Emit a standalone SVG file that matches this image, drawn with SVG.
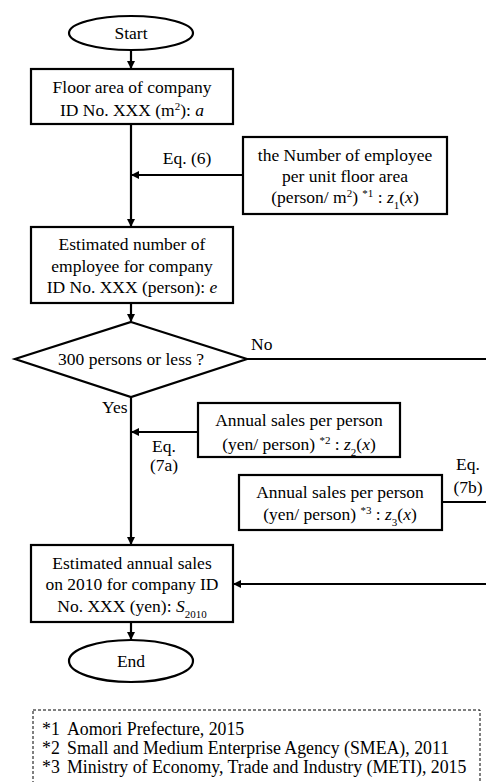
<svg xmlns="http://www.w3.org/2000/svg" width="486" height="782" viewBox="0 0 486 782">
<style>
text{font-family:'Liberation Serif','Times New Roman',serif;font-size:17.5px;fill:#000}
.c{text-anchor:middle}
.box{fill:#fff;stroke:#000;stroke-width:2.2}
.ln{fill:none;stroke:#000;stroke-width:2.2}
.i{font-style:italic}
.sm{font-size:11px}
.lg{font-size:17.8px}
</style>
<defs>
<marker id="ah" markerWidth="8" markerHeight="8" refX="7" refY="4" orient="auto" markerUnits="userSpaceOnUse">
<path d="M0,0 L8,4 L0,8 z" fill="#000"/>
</marker>
</defs>
<g id="connectors">
<line class="ln" x1="131" y1="50" x2="131" y2="68" marker-end="url(#ah)"/>
<line class="ln" x1="131" y1="124" x2="131" y2="226" marker-end="url(#ah)"/>
<line class="ln" x1="243" y1="175" x2="132" y2="175" marker-end="url(#ah)"/>
<line class="ln" x1="131" y1="303" x2="131" y2="321" marker-end="url(#ah)"/>
<line class="ln" x1="247" y1="359" x2="486" y2="359"/>
<line class="ln" x1="131" y1="397" x2="131" y2="544" marker-end="url(#ah)"/>
<line class="ln" x1="198" y1="432" x2="132" y2="432" marker-end="url(#ah)"/>
<line class="ln" x1="442" y1="502" x2="486" y2="502"/>
<line class="ln" x1="486" y1="584" x2="234" y2="584" marker-end="url(#ah)"/>
<line class="ln" x1="131" y1="622" x2="131" y2="639" marker-end="url(#ah)"/>
<text class="c" x="187" y="164">Eq. (6)</text>
<text x="102" y="413">Yes</text>
<text x="251" y="350">No</text>
<text class="c" x="164" y="452">Eq.</text>
<text class="c" x="164" y="471">(7a)</text>
<text class="c" x="468" y="470">Eq.</text>
<text class="c" x="468" y="493">(7b)</text>
</g>
<g id="start">
<ellipse class="box" cx="131" cy="33" rx="62" ry="17"/>
<text class="c" x="131" y="39">Start</text>
</g>
<g id="floor-area">
<rect class="box" x="31" y="69" width="202" height="55"/>
<text class="c" x="132" y="93">Floor area of company</text>
<text class="c" x="132" y="116">ID No. XXX (m<tspan class="sm" baseline-shift="super">2</tspan>): <tspan class="i">a</tspan></text>
</g>
<g id="z1">
<rect class="box" x="243" y="137" width="204" height="77"/>
<text class="c" x="345" y="161">the Number of employee</text>
<text class="c" x="345" y="182">per unit floor area</text>
<text class="c" x="345" y="203">(person/ m<tspan class="sm" baseline-shift="super">2</tspan>) <tspan class="sm" baseline-shift="super">*1</tspan> : <tspan class="i">z</tspan><tspan class="sm" baseline-shift="sub">1</tspan>(<tspan class="i">x</tspan>)</text>
</g>
<g id="employees">
<rect class="box" x="31" y="227" width="202" height="76"/>
<text class="c" x="132" y="250">Estimated number of</text>
<text class="c" x="132" y="272">employee for company</text>
<text class="c" x="132" y="293">ID No. XXX (person): <tspan class="i">e</tspan></text>
</g>
<g id="decision">
<polygon class="box" points="131,322 247,359 131,397 15,359"/>
<text class="c" x="131" y="365">300 persons or less ?</text>
</g>
<g id="z2">
<rect class="box" x="198" y="403" width="202" height="54"/>
<text class="c" x="299" y="426">Annual sales per person</text>
<text class="c" x="299" y="450">(yen/ person) <tspan class="sm" baseline-shift="super">*2</tspan> : <tspan class="i">z</tspan><tspan class="sm" baseline-shift="sub">2</tspan>(<tspan class="i">x</tspan>)</text>
</g>
<g id="z3">
<rect class="box" x="239" y="475" width="203" height="55"/>
<text class="c" x="340" y="498">Annual sales per person</text>
<text class="c" x="340" y="520">(yen/ person) <tspan class="sm" baseline-shift="super">*3</tspan> : <tspan class="i">z</tspan><tspan class="sm" baseline-shift="sub">3</tspan>(<tspan class="i">x</tspan>)</text>
</g>
<g id="sales">
<rect class="box" x="31" y="545" width="202" height="77"/>
<text class="c" x="132" y="569">Estimated annual sales</text>
<text class="c" x="132" y="590">on 2010 for company ID</text>
<text class="c" x="132" y="612">No. XXX (yen): <tspan class="i">S</tspan><tspan class="sm" baseline-shift="sub">2010</tspan></text>
</g>
<g id="end">
<ellipse class="box" cx="131" cy="661" rx="62" ry="21"/>
<text class="c" x="131" y="667">End</text>
</g>
<g id="legend">
<rect x="33" y="710" width="447" height="80" fill="none" stroke="#000" stroke-width="1" stroke-dasharray="3,2"/>
<text class="lg" x="42" y="735">*1</text>
<text class="lg" x="67" y="735">Aomori Prefecture, 2015</text>
<text class="lg" x="42" y="754">*2</text>
<text class="lg" x="67" y="754">Small and Medium Enterprise Agency (SMEA), 2011</text>
<text class="lg" x="42" y="773">*3</text>
<text class="lg" x="67" y="773">Ministry of Economy, Trade and Industry (METI), 2015</text>
</g>
</svg>
